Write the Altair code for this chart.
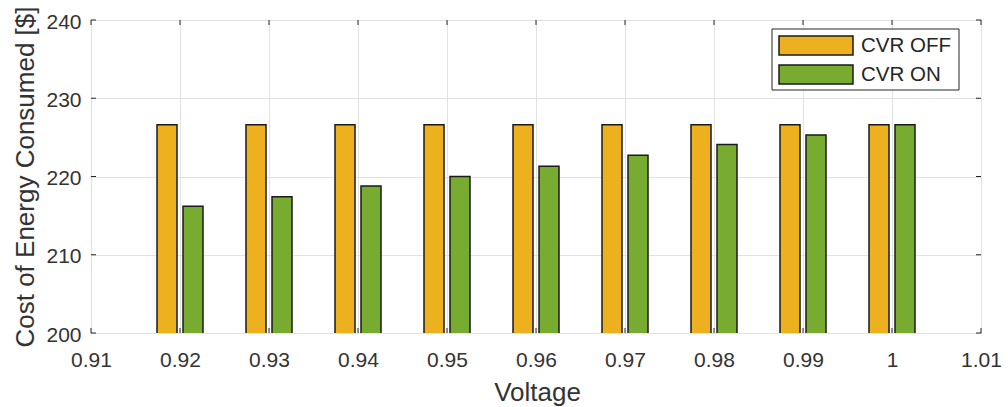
import altair as alt
import pandas as pd

# ---- data ----
voltages = [0.92, 0.93, 0.94, 0.95, 0.96, 0.97, 0.98, 0.99, 1.00]
cvr_off = [226.6, 226.6, 226.6, 226.6, 226.6, 226.6, 226.6, 226.6, 226.6]
cvr_on = [216.2, 217.4, 218.8, 220.0, 221.3, 222.7, 224.1, 225.3, 226.6]
series = ["CVR OFF", "CVR ON"]
x_ticks = [0.91, 0.92, 0.93, 0.94, 0.95, 0.96, 0.97, 0.98, 0.99, 1.00, 1.01]
y_ticks = [200, 210, 220, 230, 240]

colors = ["#EDB120", "#77AC30"]
FONT = "Liberation Sans"
DARK = "#262626"
EDGE = "#1a1a1a"

rows = []
for v, a, b in zip(voltages, cvr_off, cvr_on):
    rows.append({"Voltage": v, "Cost": a, "Series": series[0]})
    rows.append({"Voltage": v, "Cost": b, "Series": series[1]})
df = pd.DataFrame(rows)
xt = pd.DataFrame({"Voltage": x_ticks})
yt = pd.DataFrame({"Cost": y_ticks})

W, H = 890, 313

x_enc = alt.X(
    "Voltage:Q",
    scale=alt.Scale(domain=[x_ticks[0], x_ticks[-1]], nice=False, zero=False,
                    padding=0),
    axis=alt.Axis(
        values=x_ticks, format=".2~f", title="Voltage", grid=True,
        ticks=False, tickSize=0, domain=False, labelFlush=False,
        labelOverlap=False,
        labelBaseline="alphabetic", labelPadding=33,
        titleBaseline="alphabetic", titleY=67, titleX=446,
    ),
)
y_enc = alt.Y(
    "Cost:Q",
    scale=alt.Scale(domain=[y_ticks[0], y_ticks[-1]], nice=False, zero=False,
                    padding=0),
    axis=alt.Axis(
        values=y_ticks, title="Cost of Energy Consumed [$]", grid=True,
        ticks=False, tickSize=0, domain=False, labelFlush=False,
        labelPadding=10, labelOffset=2,
        titleBaseline="alphabetic", titleX=-58, titleY=H / 2, titleAngle=270,
    ),
)
color_enc = alt.Color(
    "Series:N", scale=alt.Scale(domain=series, range=colors), legend=None
)

bars_off = (
    alt.Chart(df)
    .transform_filter(alt.datum.Series == series[0])
    .mark_bar(width=20, xOffset=-13, stroke=EDGE, strokeWidth=1.5,
              opacity=1, clip=True)
    .encode(x=x_enc, y=y_enc, color=color_enc)
)
bars_on = (
    alt.Chart(df)
    .transform_filter(alt.datum.Series == series[1])
    .mark_bar(width=20, xOffset=13, stroke=EDGE, strokeWidth=1.5,
              opacity=1, clip=True)
    .encode(x="Voltage:Q", y="Cost:Q", color=color_enc)
)

tick_style = dict(color=DARK, strokeWidth=1)
ticks_bottom = alt.Chart(xt).mark_rule(**tick_style).encode(
    x="Voltage:Q", y=alt.value(H), y2=alt.value(H - 5))
ticks_top = alt.Chart(xt).mark_rule(**tick_style).encode(
    x="Voltage:Q", y=alt.value(0), y2=alt.value(5))
ticks_left = alt.Chart(yt).mark_rule(**tick_style).encode(
    y="Cost:Q", x=alt.value(0), x2=alt.value(5))
ticks_right = alt.Chart(yt).mark_rule(**tick_style).encode(
    y="Cost:Q", x=alt.value(W), x2=alt.value(W - 5))

# ---- legend (MATLAB style box, drawn as marks) ----
leg_df = pd.DataFrame({"Series": series})
leg_box = alt.Chart(leg_df.head(1)).mark_rect(
    fill="white", stroke=DARK, strokeWidth=1
).encode(x=alt.value(681), x2=alt.value(868), y=alt.value(9), y2=alt.value(70))
leg_layers = [leg_box]
for i, (name, col) in enumerate(zip(series, colors)):
    one = pd.DataFrame({"Series": [name]})
    y0 = 16 + 29 * i
    leg_layers.append(
        alt.Chart(one).mark_rect(fill=col, stroke=EDGE, strokeWidth=1.5).encode(
            x=alt.value(688), x2=alt.value(762), y=alt.value(y0), y2=alt.value(y0 + 19)
        )
    )
    leg_layers.append(
        alt.Chart(one).mark_text(
            align="left", baseline="middle", font=FONT, fontSize=20.5, color=DARK
        ).encode(x=alt.value(770), y=alt.value(y0 + 10), text="Series:N")
    )

chart = (
    alt.layer(bars_off, bars_on, ticks_bottom, ticks_top, ticks_left, ticks_right,
              *leg_layers)
    .properties(
        width=W, height=H,
        autosize=alt.AutoSizeParams(type="none"),
        padding={"left": 91, "top": 20, "right": 27, "bottom": 74},
        background="white",
    )
    .configure_view(stroke=DARK, strokeWidth=1)
    .configure_axis(
        gridColor="#e2e2e2", gridWidth=1,
        labelFont=FONT, labelFontSize=21, labelColor="#333333",
        titleFont=FONT, titleFontSize=26, titleColor="#333333",
        titleFontWeight="normal",
    )
)

chart.save("out.html", embed_options={"renderer": "svg", "actions": False})
